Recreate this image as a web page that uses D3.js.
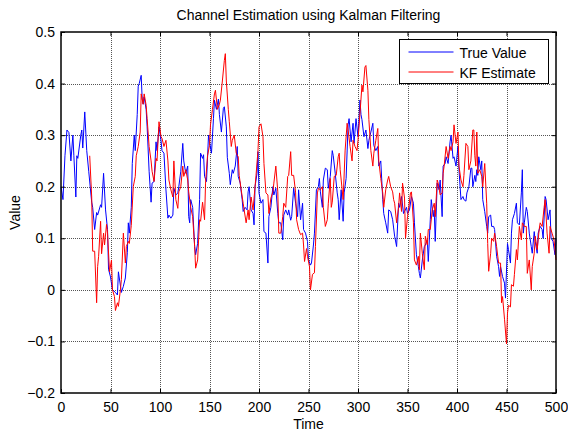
<!DOCTYPE html>
<html>
<head>
<meta charset="utf-8">
<script src="https://cdn.jsdelivr.net/npm/d3@7"></script>
<style>
body{margin:0;background:#fff;}
text{font-family:"Liberation Sans",Arial,Helvetica,sans-serif;font-size:14px;fill:#000;}
</style>
</head>
<body>
<div id="chart"></div>
<script>
/*Kalman filter channel estimate vs true channel
values*/
var trueTime=[0,2,4,6,8,10,12,13,15,16,17,20,21,22,24,26,28,31,32,34,36,37,40,41,43,45,47,48,50,52,55,57,58,61,63,65,67,68,69,71,72,74,75,77,78,79,81,82,83,
84,86,87,89,91,92,94,96,97,99,101,102,104,106,108,109,111,113,114,116,118,119,121,123,124,126,128,129,130,131,133,135,136,138,140,141,143,144,145,147,149,150,152,154,155,157,159,160,162,164,165,167,168,170,
171,173,174,176,178,179,181,183,184,186,188,189,190,192,194,195,196,198,199,200,202,204,205,207,209,210,212,214,215,217,219,220,222,224,225,227,229,230,232,233,235,237,239,240,242,244,245,247,249,250,
252,253,255,256,258,260,261,262,264,265,267,269,270,272,274,275,277,279,280,281,283,285,286,288,290,291,293,295,296,298,300,301,302,303,304,306,308,310,311,313,315,316,318,320,321,323,325,326,328,330,331,333,335,
336,337,339,341,342,344,346,347,349,350,352,354,356,357,359,361,362,363,365,367,368,370,371,373,374,376,377,378,380,382,383,385,386,388,389,391,393,394,396,397,399,401,402,404,406,407,409,410,412,414,415,416,418,419,
420,421,422,424,425,426,428,430,431,432,434,435,437,438,440,442,443,444,446,448,449,451,452,454,455,456,458,460,461,463,465,466,467,468,470,471,473,475,476,478,479,481,482,484,486,487,489,490,492,494,495,497,499,500];
var trueValue=[0.20,0.175,0.26,0.31,0.305,0.25,0.30,0.26,0.18,0.26,0.255,0.30,0.31,0.275,0.345,0.27,0.23,0.17,0.16,0.117,0.15,0.145,0.165,0.16,0.226,0.155,0.117,0.04,0.025,0.0,-0.005,-0.01,0.035,-0.005,0.007,0.023,0.072,0.13,0.11,0.16,0.245,0.30,0.27,0.34,0.395,0.40,0.416,0.37,0.36,
0.374,0.35,0.316,0.23,0.17,0.207,0.21,0.287,0.27,0.316,0.29,0.27,0.265,0.194,0.139,0.145,0.139,0.145,0.197,0.184,0.188,0.2,0.23,0.284,0.25,0.226,0.24,0.142,0.13,0.175,0.16,0.084,0.068,0.09,0.175,0.265,0.255,0.262,0.22,0.21,0.30,0.287,0.265,0.332,0.368,0.35,0.37,0.34,0.306,0.352,0.355,0.316,0.257,0.226,
0.204,0.233,0.226,0.24,0.278,0.22,0.207,0.175,0.152,0.16,0.155,0.19,0.2,0.155,0.148,0.126,0.2,0.226,0.268,0.188,0.168,0.175,0.113,0.11,0.052,0.142,0.16,0.2,0.184,0.197,0.148,0.13,0.13,0.097,0.145,0.155,0.145,0.155,0.135,0.142,0.197,0.168,0.142,0.194,0.136,0.168,0.117,0.11,0.094,0.058,
0.048,0.052,0.087,0.11,0.194,0.2,0.216,0.19,0.16,0.213,0.236,0.233,0.197,0.22,0.27,0.26,0.226,0.188,0.175,0.136,0.194,0.133,0.188,0.216,0.32,0.332,0.287,0.323,0.284,0.332,0.297,0.33,0.368,0.34,0.33,0.297,0.31,0.274,0.29,0.306,0.323,0.28,0.27,0.278,0.24,0.25,0.175,0.148,0.13,0.11,0.155,0.152,0.136,
0.12,0.104,0.084,0.168,0.16,0.181,0.148,0.152,0.16,0.148,0.155,0.181,0.168,0.13,0.068,0.045,0.032,0.023,0.058,0.084,0.087,0.097,0.055,0.136,0.175,0.142,0.155,0.094,0.207,0.194,0.213,0.142,0.24,0.245,0.258,0.245,0.287,0.30,0.255,0.258,0.24,0.278,0.233,0.175,0.181,0.175,0.172,0.188,0.2,0.236,0.236,0.2,0.222,0.21,
0.233,0.222,0.258,0.233,0.25,0.175,0.152,0.123,0.11,0.142,0.145,0.123,0.123,0.117,0.065,0.045,0.026,0.045,0.026,0.013,-0.016,0.09,0.078,0.052,0.11,0.136,0.148,0.168,0.13,0.126,0.188,0.233,0.11,0.13,0.16,0.152,0.11,0.084,0.071,0.113,0.094,0.071,0.11,0.123,0.117,0.1,0.181,0.175,0.136,0.155,0.1,0.094,0.068,0.1];

var kfTime=[29,31,32,34,36,37,38,40,41,43,44,46,47,49,51,52,54,55,57,58,60,61,63,65,66,68,69,71,73,75,76,78,80,81,83,
84,86,87,89,91,92,94,96,97,99,101,102,104,106,108,109,111,113,114,116,118,119,121,123,124,126,128,129,131,133,135,136,138,140,141,143,145,146,148,150,151,153,155,156,158,160,161,163,165,166,167,169,170,
172,173,175,177,179,180,182,184,185,187,189,190,192,194,195,197,199,200,202,204,205,207,209,210,212,214,215,217,219,220,222,224,225,227,229,230,232,233,235,237,238,240,242,244,245,246,248,249,251,252,
254,256,257,259,260,262,264,265,267,269,270,272,273,274,276,278,280,281,282,284,285,287,289,290,292,294,295,297,299,300,302,304,305,307,308,310,311,313,315,316,318,320,321,323,325,326,328,330,331,333,335,
336,337,339,341,342,344,345,347,348,350,351,353,354,356,357,359,361,362,363,365,367,368,370,371,373,375,377,378,380,381,383,385,386,387,389,391,393,394,396,397,399,401,402,404,406,407,409,411,412,414,416,417,418,419,
420,421,423,425,426,428,430,431,432,434,435,437,438,440,442,444,445,446,448,450,451,452,454,455,457,458,460,461,463,465,466,468,470,471,473,475,476,478,479,481,483,484,486,488,489,491,493,494,496,498,500];
var kfValue=[0.26,0.18,0.075,0.075,-0.025,0.045,0.065,0.133,0.07,0.11,0.087,0.127,0.11,0.035,0.058,0.0,-0.013,-0.04,-0.025,-0.032,0.0,0.02,0.11,0.052,0.084,0.094,0.09,0.125,0.2,0.22,0.26,0.278,0.306,0.38,0.36,
0.38,0.358,0.332,0.278,0.25,0.23,0.21,0.255,0.25,0.326,0.297,0.294,0.278,0.29,0.25,0.213,0.194,0.18,0.25,0.175,0.158,0.19,0.2,0.24,0.22,0.233,0.213,0.19,0.16,0.142,0.084,0.042,0.058,0.136,0.133,0.17,0.136,0.207,0.26,0.28,0.32,0.35,0.38,0.387,0.35,0.36,0.368,0.405,0.445,0.458,0.405,0.35,0.326,
0.278,0.29,0.30,0.265,0.258,0.222,0.194,0.168,0.155,0.13,0.155,0.136,0.18,0.155,0.178,0.222,0.271,0.316,0.322,0.297,0.245,0.188,0.184,0.148,0.178,0.19,0.207,0.24,0.19,0.11,0.11,0.142,0.168,0.16,0.22,0.222,0.268,0.222,0.222,0.188,0.136,0.117,0.107,0.11,0.087,0.055,0.08,0.065,0.045,0.0,
0.03,0.033,0.084,0.188,0.197,0.194,0.2,0.16,0.123,0.136,0.168,0.216,0.16,0.17,0.22,0.222,0.258,0.265,0.233,0.194,0.175,0.271,0.323,0.31,0.278,0.25,0.29,0.278,0.27,0.29,0.342,0.397,0.384,0.432,0.435,0.387,0.33,0.27,0.24,0.265,0.29,0.313,0.25,0.216,0.188,0.16,0.194,0.213,0.22,0.2,0.19,
0.175,0.168,0.13,0.16,0.188,0.152,0.207,0.178,0.10,0.142,0.155,0.188,0.19,0.13,0.058,0.048,0.065,0.039,0.11,0.07,0.039,0.104,0.087,0.117,0.117,0.155,0.168,0.142,0.213,0.207,0.184,0.188,0.226,0.24,0.278,0.255,0.278,0.27,0.287,0.32,0.284,0.306,0.24,0.213,0.2,0.222,0.284,0.278,0.233,0.25,0.31,0.31,0.26,0.24,
0.306,0.226,0.233,0.22,0.2,0.245,0.168,0.09,0.036,0.071,0.10,0.094,0.11,0.084,0.052,0.052,-0.025,-0.013,-0.057,-0.105,-0.045,-0.03,-0.033,0.01,0.007,0.03,0.078,0.058,0.123,0.097,0.13,0.123,0.123,0.032,0.058,0.0,0.045,0.071,0.104,0.078,0.117,0.13,0.123,0.16,0.175,0.11,0.071,0.123,0.11,0.097,0.058];

var xTicks=[0,50,100,150,200,250,300,350,400,450,500];
var yTicks=[-0.2,-0.1,0,0.1,0.2,0.3,0.4,0.5];
var seriesNames=["True Value","KF Estimate"];
var seriesColors=["#0000ff","#ff0000"];

var margin={top:32,right:12,bottom:39,left:61},
w=568-margin.left-margin.right,
h=432-margin.top-margin.bottom;

var svg=d3.select("#chart").append("svg")
.attr("width",568).attr("height",432);
var g=svg.append("g").attr("transform",`translate(${margin.left},${margin.top})`);

var xScale=d3.scaleLinear().domain([0,500]).range([0,w]);
var yScale=d3.scaleLinear().domain([-0.2,0.5]).range([h,0]);

//dotted grid
g.append("g").selectAll("line").data(xTicks.slice(1,-1)).enter().append("line")
.attr("x1",d=>Math.round(xScale(d))+0.5).attr("x2",d=>Math.round(xScale(d))+0.5)
.attr("y1",0).attr("y2",h)
.attr("stroke","#555").attr("stroke-dasharray","1,1");
g.append("g").selectAll("line").data(yTicks.slice(1,-1)).enter().append("line")
.attr("y1",d=>Math.round(yScale(d))+0.5).attr("y2",d=>Math.round(yScale(d))+0.5)
.attr("x1",0).attr("x2",w)
.attr("stroke","#555").attr("stroke-dasharray","1,1");

//series
var line=d3.line().x(d=>xScale(d[0])).y(d=>yScale(d[1]));
g.append("path").datum(d3.zip(trueTime,trueValue))
.attr("d",line).attr("fill","none").attr("stroke",seriesColors[0]).attr("stroke-width",1);
g.append("path").datum(d3.zip(kfTime,kfValue))
.attr("d",line).attr("fill","none").attr("stroke",seriesColors[1]).attr("stroke-width",1);

//axes, ticks pointing inward
var fmt=d=>d3.format("")(+d.toFixed(1));
g.append("g").attr("transform","translate(0,"+h+")")
.call(d3.axisBottom(xScale).tickValues(xTicks).tickSizeInner(-4).tickSizeOuter(0).tickPadding(9))
.call(a=>a.selectAll("text").style("font-size","14px").style("font-family",null));
g.append("g")
.call(d3.axisLeft(yScale).tickValues(yTicks).tickFormat(fmt).tickSizeInner(-4).tickSizeOuter(0).tickPadding(6))
.call(a=>a.selectAll("text").style("font-size","14px").style("font-family",null));
g.append("g")
.call(d3.axisTop(xScale).tickValues(xTicks).tickFormat("").tickSizeInner(-4).tickSizeOuter(0));
g.append("g").attr("transform","translate("+w+",0)")
.call(d3.axisRight(yScale).tickValues(yTicks).tickFormat("").tickSizeInner(-4).tickSizeOuter(0));
g.selectAll(".domain").remove();
g.selectAll(".tick text").attr("font-family",null).attr("font-size",null);
g.append("rect").attr("x",0).attr("y",0).attr("width",w).attr("height",h)
.attr("fill","none").attr("stroke","#000").attr("stroke-width",1.5);

//labels
svg.append("text").attr("x",margin.left+w/2).attr("y",20).attr("text-anchor","middle")
.text("Channel Estimation using Kalman Filtering");
svg.append("text").attr("x",margin.left+w/2).attr("y",429).attr("text-anchor","middle").text("Time");
svg.append("text").attr("transform","translate(20,"+(margin.top+h/2)+")rotate(-90)")
.attr("text-anchor","middle").text("Value");

//legend
var leg=svg.append("g").attr("transform","translate(399.5,39.5)");
leg.append("rect").attr("width",149).attr("height",44).attr("fill","#fff").attr("stroke","#000");
seriesNames.forEach(function(name,i){
leg.append("line").attr("x1",9).attr("x2",54).attr("y1",12.5+i*20).attr("y2",12.5+i*20)
.attr("stroke",seriesColors[i]);
leg.append("text").attr("x",60).attr("y",18+i*20).text(name);
});
</script>
</body>
</html>
